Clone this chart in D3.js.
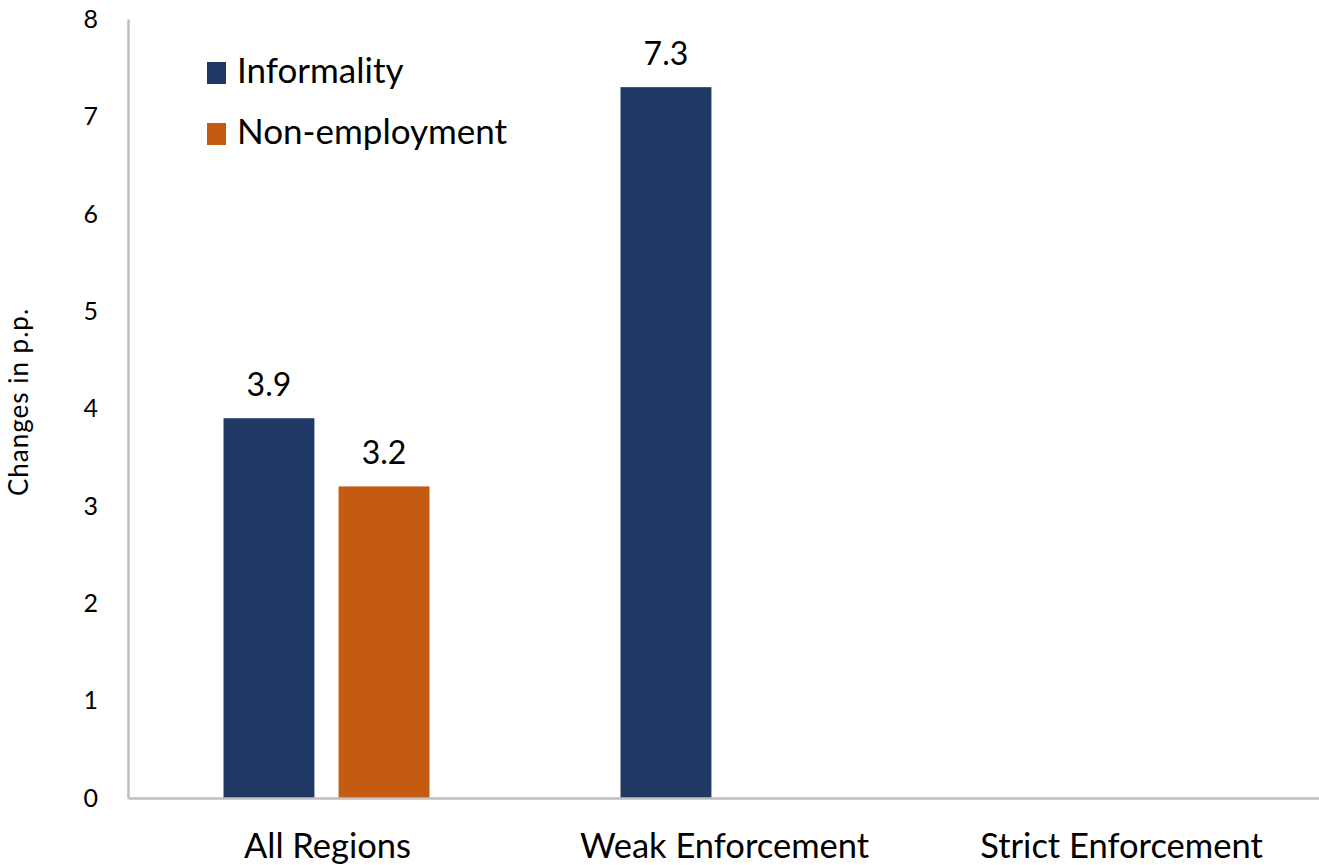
<!DOCTYPE html>
<html>
<head>
<meta charset="utf-8">
<script src="https://cdn.jsdelivr.net/npm/d3@7"></script>
<style>
  html, body { margin: 0; padding: 0; background: #fff; }
  svg { display: block; font-family: Lato, "Open Sans", sans-serif; }
</style>
</head>
<body>
<svg id="chart" width="1319" height="865"></svg>
<script>
const categories = ["All Regions", "Weak Enforcement", "Strict Enforcement"];
const seriesNames = ["Informality", "Non-employment"];
const informality = [3.9, 7.3, null];
const nonEmployment = [3.2, null, null];
const yTicks = [0, 1, 2, 3, 4, 5, 6, 7, 8];
const colors = ["#203864", "#C55A11"];
const yTitle = "Changes in p.p.";

const seriesValues = [informality, nonEmployment];

const svg = d3.select("#chart");
const plotLeft = 128, plotRight = 1319, plotTop = 19, plotBottom = 798;

const x = d3.scaleBand().domain(categories).range([plotLeft, plotRight]).paddingInner(0).paddingOuter(0);
const xs = d3.scaleBand().domain(seriesNames).range([0, x.bandwidth()])
  .paddingInner(0.21).paddingOuter(0.83);
const y = d3.scaleLinear().domain([0, 8]).range([plotBottom, plotTop]);

// bars
const data = [];
categories.forEach((c, i) => {
  seriesNames.forEach((s, j) => {
    const v = seriesValues[j][i];
    if (v !== null && v !== undefined) data.push({ c, s, v, j });
  });
});

svg.append("g").selectAll("rect").data(data).join("rect")
  .attr("x", d => x(d.c) + xs(d.s))
  .attr("width", xs.bandwidth())
  .attr("y", d => y(d.v))
  .attr("height", d => y(0) - y(d.v))
  .attr("fill", d => colors[d.j]);

// value labels
svg.append("g").selectAll("text").data(data).join("text")
  .attr("x", d => x(d.c) + xs(d.s) + xs.bandwidth() / 2)
  .attr("y", d => y(d.v) - 22)
  .attr("text-anchor", "middle")
  .attr("font-size", 32)
  .attr("fill", "#000")
  .text(d => d.v.toFixed(1));

// y axis
const yAxis = d3.axisLeft(y).tickValues(yTicks).tickSize(0).tickPadding(30).tickFormat(d3.format("d"));
const gy = svg.append("g").attr("transform", `translate(${plotLeft},0)`).call(yAxis);
gy.select(".domain").attr("stroke", "#bfbfbf").attr("stroke-width", 2.5);
gy.selectAll("text").attr("font-size", 25).attr("fill", "#000").attr("font-family", "Lato, sans-serif")
  .attr("dy", "0.33em");

// x axis
const xAxis = d3.axisBottom(x).tickSize(0).tickPadding(36);
const gx = svg.append("g").attr("transform", `translate(0,${plotBottom})`).call(xAxis);
gx.select(".domain").attr("stroke", "#bfbfbf").attr("stroke-width", 2.5);
gx.selectAll("text").attr("font-size", 34.5).attr("fill", "#000").attr("font-family", "Lato, sans-serif")
  .attr("dx", 1);

// y title
svg.append("text")
  .attr("transform", `translate(28,402) rotate(-90)`)
  .attr("text-anchor", "middle")
  .attr("font-size", 26)
  .attr("letter-spacing", 1)
  .attr("fill", "#000")
  .text(yTitle);

// legend
const legend = svg.append("g");
seriesNames.forEach((s, j) => {
  const ly = 62 + j * 61;
  legend.append("rect").attr("x", 207).attr("y", ly).attr("width", 19).attr("height", 22).attr("fill", colors[j]);
  legend.append("text").attr("x", 237).attr("y", ly + 21).attr("font-size", 35).attr("fill", "#000").text(s);
});
</script>
</body>
</html>
